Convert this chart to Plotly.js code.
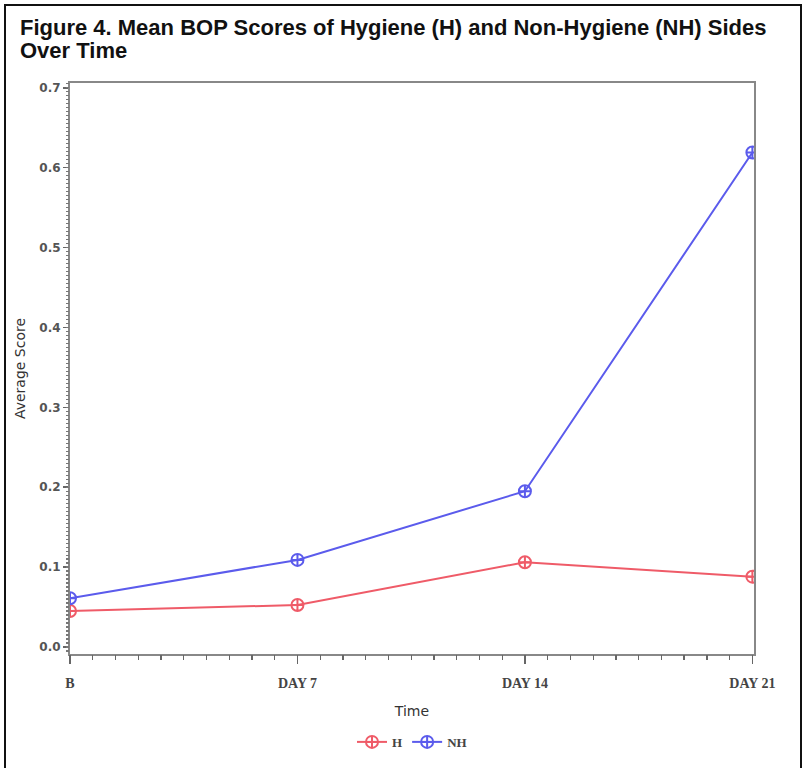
<!DOCTYPE html>
<html>
<head>
<meta charset="utf-8">
<script src="https://cdn.plot.ly/plotly-3.0.1.min.js"></script>
<style>
  html, body { margin: 0; padding: 0; background: #fff; }
  #wrap { position: relative; width: 804px; height: 768px; }
  #chart { width: 804px; height: 768px; }
  #frame { position: absolute; left: 4px; top: 4px; width: 798px; height: 780px;
           border: 2px solid #111; pointer-events: none; box-sizing: border-box; }
</style>
</head>
<body>
<div id="wrap">
  <div id="chart"></div>
  <div id="frame"></div>
</div>
<script>
// ---- data ----
const dayValues = [0, 7, 14, 21];
const dayLabels = ["B", "DAY 7", "DAY 14", "DAY 21"];
const hygieneH = [0.045, 0.0525, 0.106, 0.088];
const nonHygieneNH = [0.061, 0.109, 0.195, 0.619];
const yTickValues = [0.0, 0.1, 0.2, 0.3, 0.4, 0.5, 0.6, 0.7];
const yTickLabels = ["0.0", "0.1", "0.2", "0.3", "0.4", "0.5", "0.6", "0.7"];
const titleLines = ["Figure 4. Mean BOP Scores of Hygiene (H) and Non-Hygiene (NH) Sides", "Over Time"];

const redC = "#ef5b68";
const blueC = "#5b5bec";
const tickFont = { family: "DejaVu Sans", size: 12, color: "#555", weight: "bold" };
const serifFont = { family: "Liberation Serif", size: 14, color: "#444", weight: "bold" };
const legendFont = { family: "Liberation Serif", size: 13, color: "#444", weight: "bold" };
const titleFont = { family: "Liberation Sans", size: 22, color: "#111", weight: "bold" };
const axisTitleFont = { family: "DejaVu Sans", size: 14, color: "#333" };

const xRange = [0, 21.05];
const yRange = [-0.0088, 0.706];

const traces = [
  {
    x: dayValues, y: hygieneH, name: "H", type: "scatter", mode: "lines+markers",
    line: { color: redC, width: 2 },
    marker: { symbol: "circle-cross-open", size: 12, color: redC, line: { width: 2, color: redC } }
  },
  {
    x: dayValues, y: nonHygieneNH, name: "NH", type: "scatter", mode: "lines+markers",
    line: { color: blueC, width: 2 },
    marker: { symbol: "circle-cross-open", size: 12, color: blueC, line: { width: 2, color: blueC } }
  },
  // invisible trace to activate the minor-tick axes
  { x: [dayValues[0]], y: [yTickValues[0]], xaxis: "x2", yaxis: "y2", mode: "markers",
    marker: { opacity: 0 }, showlegend: false, hoverinfo: "skip" }
];

const layout = {
  width: 804, height: 768,
  paper_bgcolor: "#fff", plot_bgcolor: "#fff",
  margin: { l: 70, r: 50, t: 83, b: 113 },
  annotations: [
    { text: titleLines[0], xref: "paper", yref: "paper", x: (18 - 70) / 684, xanchor: "left",
      y: (655 - 27) / 572, yanchor: "middle", showarrow: false, font: titleFont },
    { text: titleLines[1], xref: "paper", yref: "paper", x: (18 - 70) / 684, xanchor: "left",
      y: (655 - 50) / 572, yanchor: "middle", showarrow: false, font: titleFont }
  ],
  xaxis: {
    range: xRange,
    tickmode: "array", tickvals: dayValues, ticktext: dayLabels,
    ticks: "outside", ticklen: 8, tickwidth: 1.5, tickcolor: "#666",
    tickfont: serifFont, ticklabelstandoff: 7,
    showline: true, linecolor: "#888", linewidth: 2, mirror: true,
    showgrid: false, zeroline: false,
    title: { text: "Time", font: axisTitleFont, standoff: 16 }
  },
  xaxis2: {
    overlaying: "x", range: xRange, tickmode: "linear", tick0: 0, dtick: 0.7,
    ticks: "outside", ticklen: 5, tickwidth: 1.3, tickcolor: "#666",
    showticklabels: false, showline: false, showgrid: false, zeroline: false
  },
  yaxis: {
    range: yRange,
    tickmode: "array", tickvals: yTickValues, ticktext: yTickLabels,
    ticks: "outside", ticklen: 5, tickwidth: 1.5, tickcolor: "#666",
    tickfont: tickFont,
    showline: true, linecolor: "#888", linewidth: 2, mirror: true,
    showgrid: false, zeroline: false,
    title: { text: "Average Score", font: axisTitleFont, standoff: 10 }
  },
  yaxis2: {
    overlaying: "y", range: yRange, tickmode: "linear", tick0: 0, dtick: 0.005,
    ticks: "outside", ticklen: 3, tickwidth: 1.2, tickcolor: "#777",
    showticklabels: false, showline: false, showgrid: false, zeroline: false
  },
  showlegend: true,
  legend: {
    orientation: "h", x: 0.5, xanchor: "center", y: -0.152, yanchor: "middle",
    font: legendFont, bgcolor: "rgba(0,0,0,0)"
  }
};

Plotly.newPlot("chart", traces, layout, { displayModeBar: false, staticPlot: true });
</script>
</body>
</html>
